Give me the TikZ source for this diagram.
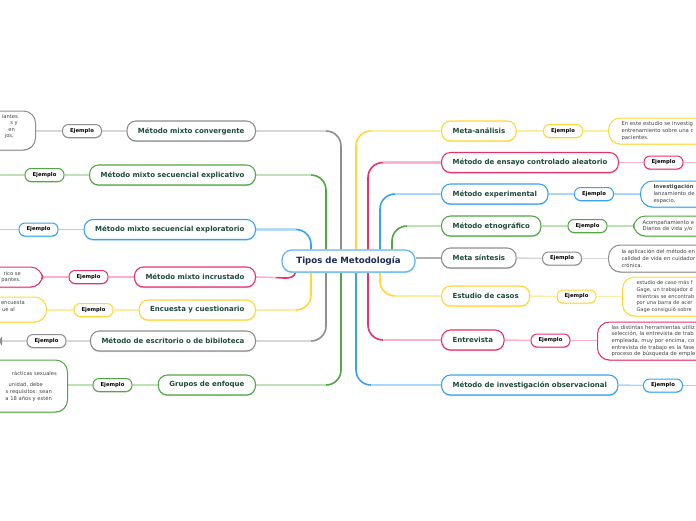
\documentclass[tikz,border=0pt]{standalone}
\usepackage{fontspec}
\setmainfont{DejaVu Sans}
\usetikzlibrary{shadows,calc,backgrounds}
\definecolor{cgray}{HTML}{8E8E8E}
\definecolor{cgrayL}{HTML}{D6D6D6}
\definecolor{cgreen}{HTML}{52A646}
\definecolor{cgreenL}{HTML}{BFE1B6}
\definecolor{cblue}{HTML}{39A2EA}
\definecolor{cblueL}{HTML}{A9D7F6}
\definecolor{cpink}{HTML}{E2336A}
\definecolor{cpinkL}{HTML}{F6B4C8}
\definecolor{cyel}{HTML}{FFD73A}
\definecolor{cyelL}{HTML}{FDEDA4}
\definecolor{ctext}{HTML}{1D4A3B}
\definecolor{ccenter}{HTML}{1B2A57}
\definecolor{ctxt}{HTML}{444444}
\newcommand{\LinkLeft}[4]{%
  \draw[link=#1] ([xshift=#2]c.#3) |- (#4.east);
  \draw[linkL=#1L] let \p1=([xshift=#2]c.#3), \p2=(#4.east) in (\p2) -- (\x1-15pt,\y2);
}
\newcommand{\LinkRight}[4]{%
  \draw[link=#1] ([xshift=#2]c.#3) |- (#4.west);
  \draw[linkL=#1L] let \p1=([xshift=#2]c.#3), \p2=(#4.west) in (\p2) -- (\x1+15pt,\y2);
}
\begin{document}
\begin{tikzpicture}[x=1pt,y=-1pt,
  branch/.style={draw=#1, line width=1.1pt, fill=white, rounded corners=9pt,
    minimum height=20pt, inner xsep=11pt, inner ysep=0pt,
    font=\fontsize{7}{8}\selectfont\bfseries, text=ctext,
    drop shadow={shadow xshift=0pt, shadow yshift=-1.2pt, opacity=1, fill=#1L}},
  ejbox/.style={draw=#1, line width=1pt, fill=white, rounded corners=6pt,
    minimum width=39pt, minimum height=13pt, inner sep=0pt,
    font=\fontsize{5.3}{6}\selectfont\bfseries, text=black,
    drop shadow={shadow xshift=0pt, shadow yshift=-1pt, opacity=1, fill=#1L}},
  tbox/.style={draw=#1, line width=1pt, fill=white, rounded corners=12pt,
    inner xsep=13pt, inner ysep=2pt, text width=170pt, align=left,
    font=\fontsize{5.3}{6.6}\selectfont, text=ctxt,
    drop shadow={shadow xshift=0pt, shadow yshift=-1pt, opacity=1, fill=#1L}},
  lbox/.style={draw=#1, line width=1pt, fill=white, rounded corners=12pt,
    inner sep=0pt, minimum width=120pt,
    drop shadow={shadow xshift=0pt, shadow yshift=-1pt, opacity=1, fill=#1L}},
  frag/.style={inner sep=0pt, font=\fontsize{5.2}{6.6}\selectfont, text=ctxt, anchor=east},
  link/.style={draw=#1, line width=1.6pt, rounded corners=15pt},
  linkL/.style={draw=#1, line width=1.6pt},
  elink/.style={draw=#1, line width=1.5pt}
]
\useasboundingbox (0,0) rectangle (696,520);

% centre
\node[draw=cblue!80, line width=1.2pt, fill=white, rounded corners=10pt,
  minimum width=133pt, minimum height=22pt, inner sep=0pt,
  font=\fontsize{8.6}{10}\selectfont\bfseries, text=ccenter,
  drop shadow={shadow xshift=0pt, shadow yshift=-1.2pt, opacity=1, fill=cblueL}]
  (c) at (348.5,261) {Tipos de Metodología};

% left branches
\node[branch=cgray,  anchor=east] (b1) at (256,131)   {Método mixto convergente};
\node[branch=cgreen, anchor=east] (b2) at (256,175)   {Método mixto secuencial explicativo};
\node[branch=cblue,  anchor=east] (b3) at (256,229.5) {Método mixto secuencial exploratorio};
\node[branch=cpink,  anchor=east] (b4) at (256,277)   {Método mixto incrustado};
\node[branch=cyel,   anchor=east] (b5) at (256,310)   {Encuesta y cuestionario};
\node[branch=cgray,  anchor=east] (b6) at (256,341)   {Método de escritorio o de bibiloteca};
\node[branch=cgreen, anchor=east] (b7) at (256,385)   {Grupos de enfoque};

% left ejemplos
\node[ejbox=cgray]  (e1) at (82,131)    {Ejemplo};
\node[ejbox=cgreen] (e2) at (44.5,175)  {Ejemplo};
\node[ejbox=cblue]  (e3) at (38.5,229.5){Ejemplo};
\node[ejbox=cpink]  (e4) at (88.5,277)  {Ejemplo};
\node[ejbox=cyel]   (e5) at (93.5,310)  {Ejemplo};
\node[ejbox=cgray]  (e6) at (46.5,341)  {Ejemplo};
\node[ejbox=cgreen] (e7) at (112.5,385) {Ejemplo};

% left text boxes (cut by the left edge)
\node[lbox=cgray,  anchor=east, minimum height=39pt] (t1) at (36,130.5) {};
\node[frag] (t1a) at (18,117) {iantes};
\node[frag] (t1b) at (18,123.5) {s y};
\node[frag] (t1c) at (15,130) {en};
\node[frag] (t1d) at (14,136.5) {jos,};
\coordinate (t2) at (-5,175);
\coordinate (t3) at (-5,229.5);
\node[lbox=cpink,  anchor=east, minimum height=20pt] (t4) at (43,277) {};
\node[frag] (t4a) at (21,274) {rico se};
\node[frag] (t4b) at (21,280.5) {pantes.};
\node[lbox=cyel,   anchor=east, minimum height=25pt] (t5) at (47,309.5) {};
\node[frag] (t5a) at (25,303) {encuesta};
\node[frag] (t5b) at (15,310) {ue al};
\node[lbox=cgray,  anchor=east, minimum height=16pt] (t6) at (2,341) {};
\node[lbox=cgreen, anchor=east, minimum height=52pt] (t7) at (68,386) {};
\node[frag] (t7a) at (57,373) {rácticas sexuales};
\node[frag] (t7b) at (43,385) {unidad, debe};
\node[frag] (t7c) at (52,392) {s requisitos: sean};
\node[frag] (t7d) at (52,399) {a 18 años y estén};

% right branches
\node[branch=cyel,   anchor=west] (r1) at (441,131)   {Meta-análisis};
\node[branch=cpink,  anchor=west] (r2) at (441,162.5) {Método de ensayo controlado aleatorio};
\node[branch=cblue,  anchor=west] (r3) at (441,194)   {Método experimental};
\node[branch=cgreen, anchor=west] (r4) at (441,226)   {Método etnográfico};
\node[branch=cgray,  anchor=west] (r5) at (441,258)   {Meta síntesis};
\node[branch=cyel,   anchor=west] (r6) at (441,296)   {Estudio de casos};
\node[branch=cpink,  anchor=west] (r7) at (441,340)   {Entrevista};
\node[branch=cblue,  anchor=west] (r8) at (441,385)   {Método de investigación observacional};

% right ejemplos
\node[ejbox=cyel]   (re1) at (563,131)    {Ejemplo};
\node[ejbox=cpink]  (re2) at (663.5,162.5){Ejemplo};
\node[ejbox=cblue]  (re3) at (594,194)    {Ejemplo};
\node[ejbox=cgreen] (re4) at (587.5,226)  {Ejemplo};
\node[ejbox=cgray]  (re5) at (562,258.5)  {Ejemplo};
\node[ejbox=cyel]   (re6) at (576.5,296.5){Ejemplo};
\node[ejbox=cpink]  (re7) at (550.5,340.5){Ejemplo};
\node[ejbox=cblue]  (re8) at (663,385.5)  {Ejemplo};

% right text boxes (cut by the right edge)
\node[tbox=cyel, anchor=west, minimum height=26pt] (rt1) at (608,131)
  {En este estudio se investig\\entrenamiento sobre una c\\pacientes.};
\coordinate (rt2) at (700,162.5);
\node[tbox=cblue, anchor=west, minimum height=26pt] (rt3) at (640,194)
  {\textbf{Investigación}\\lanzamiento de\\espacio.};
\node[tbox=cgreen, anchor=west, minimum height=20pt, inner xsep=9pt] (rt4) at (633,226)
  {Acompañamiento e\\Diarios de vida y/o};
\node[tbox=cgray, anchor=west, minimum height=27pt] (rt5) at (608,258.5)
  {la aplicación del método en\\calidad de vida en cuidador\\crónica.};
\node[tbox=cyel, anchor=west, minimum height=39pt, inner xsep=14pt,
  font=\fontsize{5.1}{6.6}\selectfont] (rt6) at (622,296.5)
  {estudio de caso más f\\Gage, un trabajador d\\mientras se encontrab\\por una barra de acer\\Gage consiguió sobre};
\node[tbox=cpink, anchor=west, minimum height=38pt, inner xsep=14pt] (rt7) at (597,341)
  {las distintas herramientas utiliz\\selección, la entrevista de trab\\empleada, muy por encima, co\\entrevista de trabajo es la fase\\proceso de búsqueda de emple};
\coordinate (rt8) at (700,385.5);

\begin{scope}[on background layer]
  % centre to branches
  \LinkLeft{cgray}{-7.5pt}{north}{b1}
  \LinkLeft{cgreen}{-22.5pt}{north}{b2}
  \LinkLeft{cblue}{-37.5pt}{north}{b3}
  \LinkLeft{cyel}{-37.5pt}{south}{b5}
  \LinkLeft{cgray}{-22.5pt}{south}{b6}
  \LinkLeft{cgreen}{-7.5pt}{south}{b7}
  \draw[link=cpink, rounded corners=0pt] ([xshift=-53pt]c.south) to[out=-110,in=0] ++(-20,5) coordinate (k4);
  \draw[linkL=cpinkL] (k4) -- (b4.east);
  \LinkRight{cyel}{7.5pt}{north}{r1}
  \LinkRight{cpink}{19.5pt}{north}{r2}
  \LinkRight{cblue}{31.5pt}{north}{r3}
  \LinkRight{cgreen}{43.5pt}{north}{r4}
  \LinkRight{cyel}{31.5pt}{south}{r6}
  \LinkRight{cpink}{19.5pt}{south}{r7}
  \LinkRight{cblue}{7.5pt}{south}{r8}
  \draw[linkL=cgray!70] (c.east |- r5.west) -- (r5.west);
  % branches to ejemplos to texts
  \foreach \b/\e/\t/\col in {b1/e1/t1/cgrayL, b2/e2/t2/cgreenL, b3/e3/t3/cblueL,
      b4/e4/t4/cpinkL, b5/e5/t5/cyelL, b6/e6/t6/cgrayL, b7/e7/t7/cgreenL}{
    \draw[elink=\col] (\b.west) -- (\e.east);
    \draw[elink=\col] (\e.west) -- (\t.east |- \e.west);
  }
  \foreach \b/\e/\t/\col in {r1/re1/rt1/cyelL, r2/re2/rt2/cpinkL, r3/re3/rt3/cblueL,
      r4/re4/rt4/cgreenL, r5/re5/rt5/cgrayL, r6/re6/rt6/cyelL, r7/re7/rt7/cpinkL, r8/re8/rt8/cblueL}{
    \draw[elink=\col] (\b.east) -- (\e.west);
    \draw[elink=\col] (\e.east) -- (\t.west |- \e.east);
  }
\end{scope}
\end{tikzpicture}
\end{document}
